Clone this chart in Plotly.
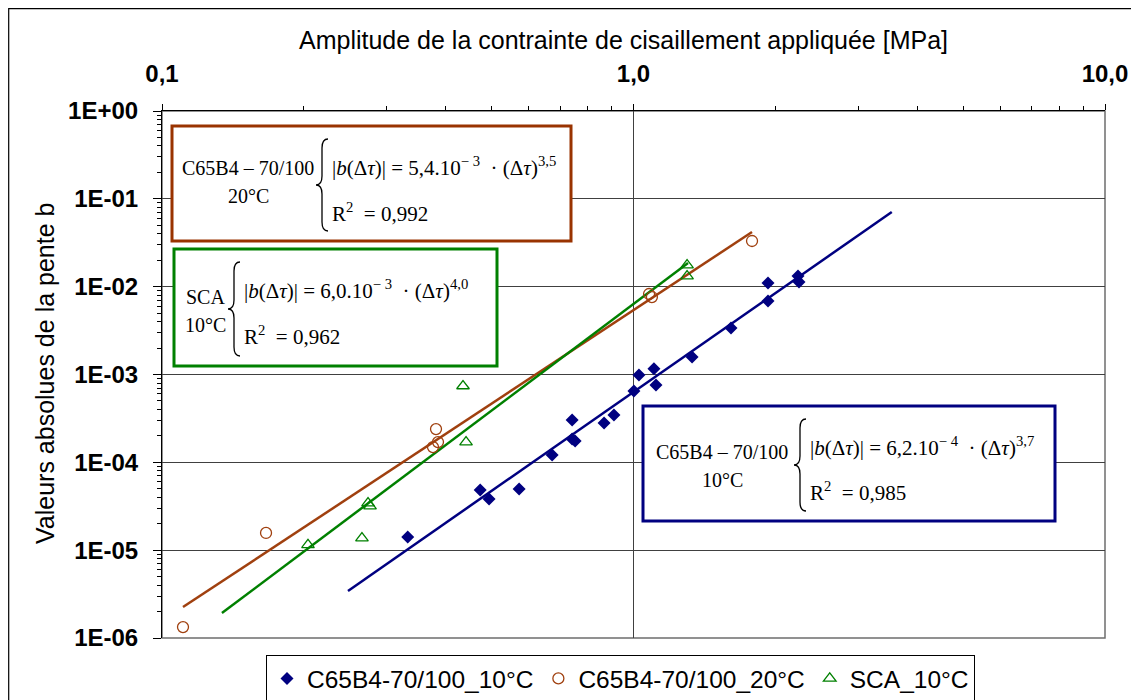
import plotly.graph_objects as go

# ---------------- data ----------------
c10_x = [0.332, 0.473, 0.494, 0.572, 0.672, 0.741, 0.741, 0.752, 0.866, 0.909,
         1.002, 1.027, 1.105, 1.116, 1.331, 1.610, 1.929, 1.929, 2.233, 2.244]
c10_y = [1.41e-5, 4.84e-5, 3.82e-5, 4.97e-5, 1.21e-4, 3.03e-4, 1.84e-4, 1.75e-4, 2.80e-4, 3.46e-4,
         6.49e-4, 9.87e-4, 1.16e-3, 7.6e-4, 1.58e-3, 3.38e-3, 1.10e-2, 6.87e-3, 1.32e-2, 1.13e-2]

c20_x = [0.1108, 0.1662, 0.3812, 0.3849, 0.3756, 1.079, 1.094, 1.784]
c20_y = [1.33e-6, 1.57e-5, 2.39e-4, 1.70e-4, 1.49e-4, 8.25e-3, 7.62e-3, 3.31e-2]

sca_x = [0.204, 0.2655, 0.2735, 0.2762, 0.4349, 0.4414, 1.299, 1.299]
sca_y = [1.15e-5, 1.37e-5, 3.44e-5, 3.18e-5, 7.40e-4, 1.70e-4, 1.76e-2, 1.32e-2]

# trend lines (straight on log-log axes), end points
c10_fit_x = [0.248, 3.53]
c10_fit_y = [3.43e-6, 0.0708]
c20_fit_x = [0.1108, 1.784]
c20_fit_y = [2.25e-6, 0.0419]
sca_fit_x = [0.134, 1.305]
sca_fit_y = [1.92e-6, 0.0186]

series_names = ["C65B4-70/100_10°C", "C65B4-70/100_20°C", "SCA_10°C"]

x_tick_vals = [0.1, 1, 10]
x_tick_text = ["0,1", "1,0", "10,0"]
y_tick_vals = [1e-6, 1e-5, 1e-4, 1e-3, 1e-2, 1e-1, 1]
y_tick_text = ["1E-06", "1E-05", "1E-04", "1E-03", "1E-02", "1E-01", "1E+00"]

x_title = "Amplitude de la contrainte de cisaillement appliquée [MPa]"
y_title = "Valeurs absolues de la pente b"

# ---------------- styling ----------------
NAVY = "#000080"
BROWN = "#A0400F"
GREEN = "#008000"
SANS = "Liberation Sans, Arial, sans-serif"
SERIF = "Liberation Serif, Times New Roman, serif"

# the page body has an 8 px margin, so the figure is drawn 8 px in/down
OFF = 8
W, H = 1139 - OFF, 700 - OFF
# plot area in page pixels: left 162, right 1105, top 111, bottom 638
P_L, P_R, P_T, P_B = 162, 1105, 111, 638
ML, MT = P_L - OFF, P_T - OFF
MR, MB = W - (P_R - OFF), H - (P_B - OFF)
PW, PH = P_R - P_L, P_B - P_T


def px(x):
    """page pixel x -> paper fraction"""
    return (x - P_L) / PW


def py(y):
    """page pixel y -> paper fraction"""
    return (P_B - y) / PH


fig = go.Figure()

# trend lines
fig.add_trace(go.Scatter(x=c10_fit_x, y=c10_fit_y, mode="lines", line=dict(color=NAVY, width=2.5),
                         showlegend=False, hoverinfo="skip"))
fig.add_trace(go.Scatter(x=c20_fit_x, y=c20_fit_y, mode="lines", line=dict(color=BROWN, width=2.5),
                         showlegend=False, hoverinfo="skip"))
fig.add_trace(go.Scatter(x=sca_fit_x, y=sca_fit_y, mode="lines", line=dict(color=GREEN, width=2.5),
                         showlegend=False, hoverinfo="skip"))

# data points
fig.add_trace(go.Scatter(x=c10_x, y=c10_y, mode="markers", name=series_names[0],
                         marker=dict(symbol="diamond", size=10, color=NAVY)))
fig.add_trace(go.Scatter(x=c20_x, y=c20_y, mode="markers", name=series_names[1],
                         marker=dict(symbol="circle-open", size=11, color=BROWN, line=dict(width=1.3))))
fig.add_trace(go.Scatter(x=sca_x, y=sca_y, mode="markers", name=series_names[2],
                         marker=dict(symbol="triangle-up-open", size=11, color=GREEN, line=dict(width=1.3))))

minor_x = [m * 10 ** k for k in (-1, 0) for m in range(2, 10)]
minor_y = [m * 10 ** k for k in range(-6, 0) for m in range(2, 10)]

fig.update_xaxes(
    type="log", range=[-1, 1], side="top",
    tickvals=x_tick_vals, ticktext=x_tick_text,
    ticks="outside", ticklen=6, tickcolor="black", tickwidth=1,
    minor=dict(tickmode="array", tickvals=minor_x, ticks="outside", ticklen=4,
               tickcolor="black", showgrid=False),
    showline=True, linecolor="black", linewidth=1,
    showgrid=True, gridcolor="#404040", gridwidth=1, zeroline=False,
    tickfont=dict(family=SANS, size=24, color="black", weight="bold"),
    ticklabelstandoff=12,
)
fig.update_yaxes(
    type="log", range=[-6, 0],
    tickvals=y_tick_vals, ticktext=y_tick_text,
    ticks="outside", ticklen=8, tickcolor="black", tickwidth=1,
    minor=dict(tickmode="array", tickvals=minor_y, ticks="outside", ticklen=4,
               tickcolor="black", showgrid=False),
    showline=True, linecolor="black", linewidth=1,
    showgrid=True, gridcolor="#404040", gridwidth=1, zeroline=False,
    tickfont=dict(family=SANS, size=24, color="black", weight="bold"),
    ticklabelstandoff=10,
)

shapes = []
# plot-area frame (grey)
shapes.append(dict(type="rect", xref="paper", yref="paper", x0=0, x1=1, y0=0, y1=1,
                   line=dict(color="#6e6e6e", width=1.5), fillcolor="rgba(0,0,0,0)", layer="below"))
# chart-area border
shapes.append(dict(type="rect", xref="paper", yref="paper", x0=px(8.7), x1=px(1150), y0=py(710), y1=py(8.7),
                   line=dict(color="black", width=1.2), fillcolor="rgba(0,0,0,0)", layer="below"))

annotations = []
annotations.append(dict(text=x_title, xref="paper", yref="paper", x=px(623), y=py(40),
                        xanchor="center", yanchor="middle", showarrow=False,
                        font=dict(family=SANS, size=25, color="black")))
annotations.append(dict(text=y_title, xref="paper", yref="paper", x=px(45), y=py(374),
                        xanchor="center", yanchor="middle", showarrow=False, textangle=-90,
                        font=dict(family=SANS, size=25, color="black")))


def brace(xl, xr, yt, yb):
    ym = (yt + yb) / 2
    xm = (xl + xr) / 2
    r = 9
    pts = [("M", xr, yt), ("Q", xm, yt, xm, yt + r), ("L", xm, ym - r), ("Q", xm, ym, xl, ym),
           ("Q", xm, ym, xm, ym + r), ("L", xm, yb - r), ("Q", xm, yb, xr, yb)]
    s = ""
    for p in pts:
        cmd = p[0]
        coords = p[1:]
        parts = []
        for i in range(0, len(coords), 2):
            parts.append(f"{px(coords[i]):.5f},{py(coords[i + 1]):.5f}")
        s += cmd + " " + " ".join(parts) + " "
    return s.strip()


def eq_box(x0, x1, y0, y1, color, label1, label2, label_cx, label_y1, label_y2, brace_x, coef, expo, r2):
    shapes.append(dict(type="rect", xref="paper", yref="paper", x0=px(x0), x1=px(x1), y0=py(y1), y1=py(y0),
                       line=dict(color=color, width=3), fillcolor="white", layer="above"))
    shapes.append(dict(type="path", xref="paper", yref="paper",
                       path=brace(brace_x, brace_x + 12, y0 + 13, y1 - 10),
                       line=dict(color="black", width=1.3), layer="above"))
    f = dict(family=SERIF, size=20, color="black")
    annotations.append(dict(text=label1, xref="paper", yref="paper", x=px(label_cx), y=py(label_y1),
                            xanchor="center", yanchor="middle", showarrow=False, font=f))
    annotations.append(dict(text=label2, xref="paper", yref="paper", x=px(label_cx), y=py(label_y2),
                            xanchor="center", yanchor="middle", showarrow=False, font=f))
    eq = ("|<i>b</i>(Δ<i>τ</i>)| = " + coef[0] + ".10<sup>− " + coef[1] + "</sup>  · (Δ<i>τ</i>)<sup>"
          + expo + "</sup>")
    ef = dict(family=SERIF, size=21, color="black")
    annotations.append(dict(text=eq, xref="paper", yref="paper", x=px(brace_x + 14), y=py(y0 + 40),
                            xanchor="left", yanchor="middle", showarrow=False, font=ef))
    annotations.append(dict(text="R<sup>2</sup>  = " + r2, xref="paper", yref="paper", x=px(brace_x + 14),
                            y=py(y0 + 86), xanchor="left", yanchor="middle", showarrow=False, font=ef))


eq_box(172, 571, 126, 241, "#993300", "C65B4 – 70/100", "20°C", 248, 168, 196, 316, ("5,4", "3"), "3,5", "0,992")
eq_box(174, 497, 249, 366, GREEN, "SCA", "10°C", 205, 297, 325, 228, ("6,0", "3"), "4,0", "0,962")
eq_box(643, 1055, 406, 521, NAVY, "C65B4 – 70/100", "10°C", 722, 452, 480, 794, ("6,2", "4"), "3,7", "0,985")

fig.update_layout(
    width=W, height=H,
    margin=dict(l=ML, r=MR, t=MT, b=MB, pad=0, autoexpand=False),
    paper_bgcolor="white", plot_bgcolor="white",
    shapes=shapes, annotations=annotations,
    showlegend=True,
    legend=dict(orientation="h", x=px(266), y=py(655), xanchor="left", yanchor="top",
                bordercolor="black", borderwidth=1, bgcolor="white",
                font=dict(family=SANS, size=24.5, color="black"),
                itemwidth=30, tracegroupgap=0),
    font=dict(family=SANS),
)

fig.write_html("out.html")
